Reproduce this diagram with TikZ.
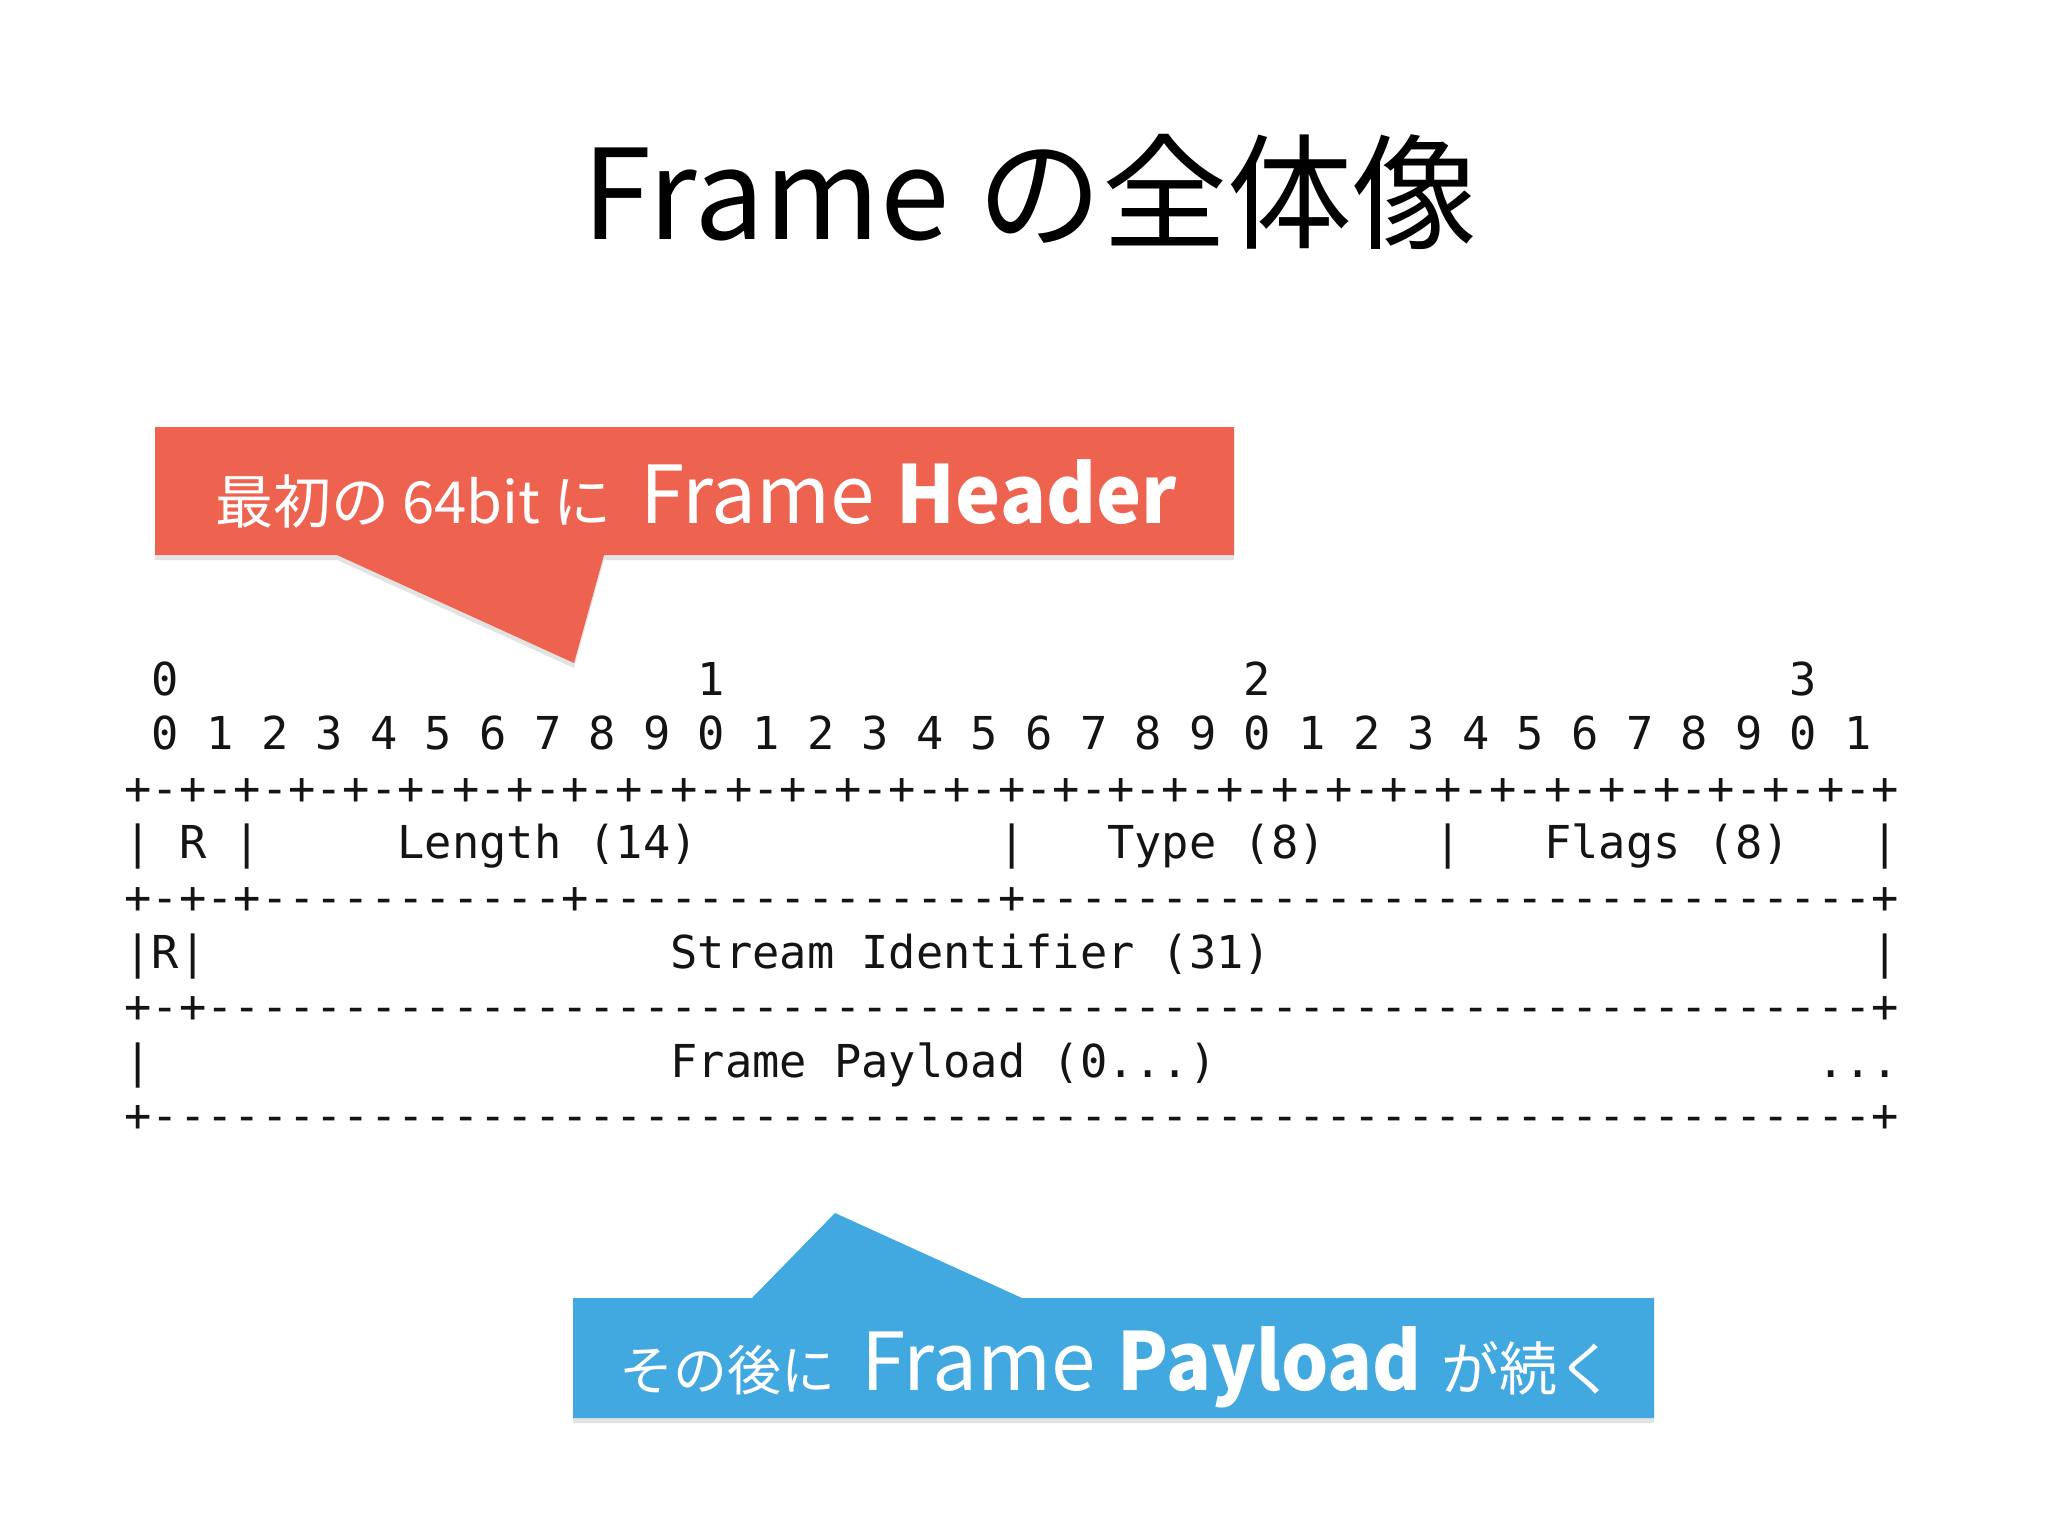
\documentclass[tikz,border=0pt]{standalone}
\usepackage{fontspec}
\usepackage{graphicx}
\setmainfont{Noto Sans CJK JP}
\setmonofont{DejaVu Sans Mono}
\usetikzlibrary{shadows}
\definecolor{calred}{RGB}{237,99,80}
\definecolor{calblue}{RGB}{66,168,224}
\definecolor{inkgray}{RGB}{20,20,20}
\ExplSyntaxOn
\cs_new:Npn \myrep #1#2 { \prg_replicate:nn {#1} {#2} }
\ExplSyntaxOff
\newcommand\asciiseg[4]{\node[ascii] (#1) at ({124.35+27.3*#3},{695+54.6*#2}) {#4};}
\tikzset{
  ascii/.style={font=\ttfamily\fontsize{45.35pt}{54.6pt}\selectfont, anchor=base west, inner sep=0pt, text=inkgray},
  callout/.style={drop shadow={shadow xshift=0pt, shadow yshift=-5pt, opacity=0.22}},
  caltext/.style={anchor=base west, inner sep=0pt, text=white}
}
\begin{document}
\begin{tikzpicture}[x=1pt,y=-1pt]
\useasboundingbox[fill=white] (0,0) rectangle (2048,1536);
% title
\node[anchor=base, inner sep=0pt, font=\fontsize{125pt}{130pt}\selectfont] (title) at (1030,239) {Frame の全体像};
% red callout
\fill[calred, callout] (155,427) -- (1234,427) -- (1234,555) -- (604,555) -- (574,663) -- (337,555) -- (155,555) -- cycle;
\node[caltext] (redtext) at (215,523) {{\fontsize{58pt}{64pt}\selectfont 最初の 64bit に}\hspace{29pt}{\fontsize{80pt}{90pt}\selectfont Frame\hspace{22pt}\bfseries\scalebox{0.95}[1]{Header}}};
% blue callout
\fill[calblue, callout] (573,1298) -- (752,1298) -- (835,1213) -- (1022,1298) -- (1654,1298) -- (1654,1418) -- (573,1418) -- cycle;
\node[caltext] (bluetext) at (619,1390) {{\fontsize{54pt}{60pt}\selectfont その後に}\hspace{26pt}{\fontsize{80pt}{90pt}\selectfont Frame\hspace{22pt}\bfseries\scalebox{0.93}[1]{Payload}}\hspace{20pt}{\fontsize{58pt}{64pt}\selectfont が続く}};
% ascii art
\asciiseg{t0}{0}{1}{0}
\asciiseg{t1}{0}{21}{1}
\asciiseg{t2}{0}{41}{2}
\asciiseg{t3}{0}{61}{3}
\asciiseg{bits}{1}{1}{0 1 2 3 4 5 6 7 8 9 0 1 2 3 4 5 6 7 8 9 0 1 2 3 4 5 6 7 8 9 0 1}
\asciiseg{ruleA}{2}{0}{\myrep{32}{+-{}}+}
\asciiseg{barA}{3}{0}{|}
\asciiseg{rA}{3}{2}{R}
\asciiseg{barB}{3}{4}{|}
\asciiseg{len}{3}{10}{Length (14)}
\asciiseg{barC}{3}{32}{|}
\asciiseg{type}{3}{36}{Type (8)}
\asciiseg{barD}{3}{48}{|}
\asciiseg{flags}{3}{52}{Flags (8)}
\asciiseg{barE}{3}{64}{|}
\asciiseg{ruleB}{4}{0}{+-+-+\myrep{11}{-{}}+\myrep{15}{-{}}+\myrep{31}{-{}}+}
\asciiseg{rB}{5}{0}{|R|}
\asciiseg{sid}{5}{20}{Stream Identifier (31)}
\asciiseg{barF}{5}{64}{|}
\asciiseg{ruleC}{6}{0}{+-+\myrep{61}{-{}}+}
\asciiseg{barG}{7}{0}{|}
\asciiseg{payload}{7}{20}{Frame Payload (0...)}
\asciiseg{dots}{7}{62}{...}
\asciiseg{ruleD}{8}{0}{+\myrep{63}{-{}}+}
\end{tikzpicture}
\end{document}
